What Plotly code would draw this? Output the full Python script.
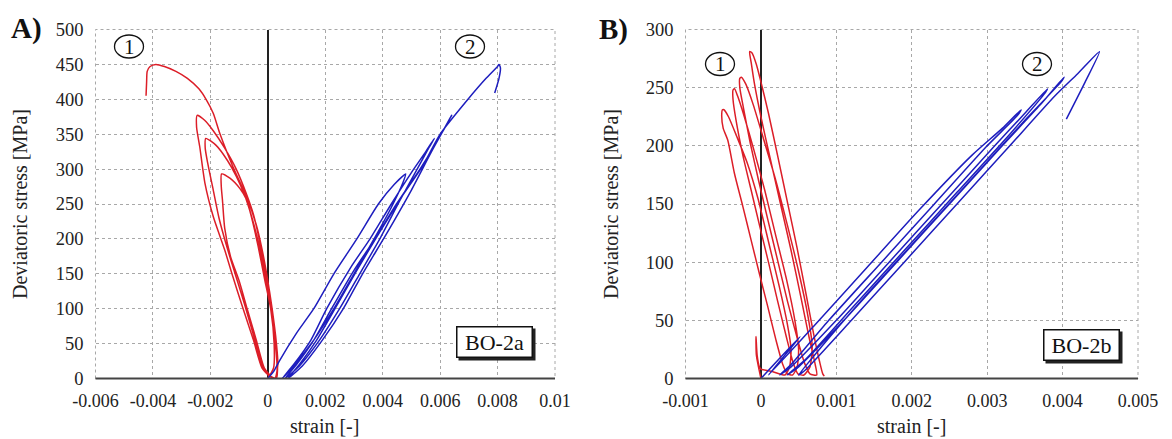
import plotly.graph_objects as go

# ---------------- data ----------------
# Panel A (BO-2a) - curve 1 (red, lateral strain)
a_red_strain = [0.0, 0.0002, 0.00022, 0.0001, -0.0001, -0.00034, -0.00055, -0.00074, -0.00097, -0.00132, -0.00161,
                -0.00162, -0.00158, -0.0015, -0.0013, -0.001, -0.00072, -0.0004, -0.00012, 0.00015, 0.0003,
                0.00032, 0.00026, 0.0001, -0.00008, -0.0003, -0.00055, -0.0008, -0.0011, -0.0014, -0.0018, -0.00216,
                -0.00218, -0.0021, -0.0019, -0.0017, -0.0014, -0.0011, -0.0008, -0.00045, -0.00015, 0.00015, 0.0003,
                0.00034, 0.00028, 0.00012, -0.00005, -0.00025, -0.0005, -0.00075, -0.0011, -0.0015, -0.0019, -0.0022, -0.00246,
                -0.00248, -0.00237, -0.00219, -0.0019, -0.0015, -0.00121, -0.0009, -0.0005, -0.0002, 0.0001, 0.00025,
                0.00035, 0.0003, 0.00015, -0.00002, -0.0002, -0.0004, -0.00074, -0.00121, -0.00167, -0.0019, -0.00215,
                -0.0024, -0.0028, -0.0032, -0.0036, -0.0039, -0.0041, -0.0042, -0.00422, -0.00424]
a_red_stress = [0, 15, 50, 100, 140, 190, 228, 256, 272, 287, 293,
                275, 256, 215, 175, 140, 100, 55, 15, 2, 0,
                20, 50, 100, 145, 190, 230, 262, 290, 312, 334, 344,
                330, 310, 270, 230, 185, 145, 105, 55, 15, 2, 0,
                20, 50, 100, 145, 190, 235, 265, 300, 330, 355, 370, 377,
                360, 332, 280, 232, 184, 145, 105, 55, 15, 2, 0,
                20, 50, 100, 145, 185, 220, 260, 303, 351, 380, 400,
                415, 430, 440, 447, 450, 447, 440, 425, 405]

# Panel A - curve 2 (blue, axial strain)
a_blue_strain = [0.0, 0.0002, 0.0004, 0.001, 0.0016, 0.0023, 0.0031, 0.00385, 0.0044, 0.0048,
                 0.0047, 0.0043, 0.0037, 0.003, 0.0023, 0.0016, 0.0009, 0.0005,
                 0.0009, 0.0015, 0.00205, 0.0029, 0.00356, 0.0043, 0.005, 0.0055, 0.0058,
                 0.0056, 0.0052, 0.0046, 0.0039, 0.0032, 0.0025, 0.0018, 0.0011, 0.0006,
                 0.001, 0.0016, 0.00222, 0.003, 0.00373, 0.00448, 0.0053, 0.0059, 0.0064,
                 0.0062, 0.0057, 0.005, 0.0041, 0.0033, 0.00263, 0.0019, 0.0012, 0.0007,
                 0.0011, 0.0017, 0.00234, 0.0031, 0.0039, 0.00466, 0.0054, 0.006, 0.00697, 0.0076, 0.008,
                 0.00805, 0.0081, 0.00805, 0.0079]
a_blue_stress = [0, 10, 25, 65, 100, 150, 200, 250, 278, 293,
                 280, 245, 200, 150, 100, 55, 18, 0,
                 20, 55, 100, 160, 200, 250, 295, 325, 344,
                 330, 300, 255, 200, 150, 100, 55, 18, 0,
                 20, 55, 100, 155, 200, 250, 300, 340, 377,
                 362, 325, 270, 205, 150, 100, 55, 18, 0,
                 20, 55, 100, 155, 210, 260, 305, 350, 400, 430, 447,
                 450, 445, 430, 409]

# Panel B (BO-2b) - curve 1 (red)
b_red_strain = [0.0, -0.00006, -0.000065, -0.00005, -0.00002, 0.0, 0.00015, 0.00032,
                0.00038, 0.0004, 0.00035, 0.00024, 0.00011, -0.00004, -0.00018, -0.00032, -0.00043, -0.00049, -0.00051,
                -0.00052, -0.0005, -0.00044, -0.00035, -0.00024, -0.00013, -0.00002, 0.00009, 0.0002, 0.00029, 0.00035, 0.00042,
                0.00048, 0.0005, 0.00045, 0.00034, 0.0002, 0.00005, -0.0001, -0.00022, -0.00031, -0.00035, -0.00037,
                -0.00037, -0.00033, -0.00024, -0.00013, -0.00002, 0.0001, 0.00022, 0.00034, 0.00043, 0.00049, 0.00057,
                0.00065, 0.00068, 0.00062, 0.0005, 0.00035, 0.00019, 0.00003, -0.0001, -0.0002, -0.00026, -0.00028,
                -0.00028, -0.00023, -0.00014, -0.00003, 0.00009, 0.00022, 0.00035, 0.00048, 0.00058, 0.00065, 0.00074,
                0.00072, 0.00064, 0.00053, 0.0004, 0.00026, 0.00012, 0.0, -0.00009, -0.00013, -0.00015,
                -0.00012, -0.00006, 0.0, 0.0001, 0.00022, 0.00035, 0.00048, 0.0006, 0.0007, 0.00078, 0.00082, 0.00084]
b_red_stress = [0, 20, 36, 20, 10, 8, 6, 3,
                10, 25, 47, 80, 115, 155, 185, 208, 225, 231, 231,
                226, 215, 205, 176, 148, 119, 90, 62, 33, 12, 4, 3,
                10, 25, 50, 85, 122, 162, 198, 225, 243, 249, 248,
                240, 222, 192, 162, 132, 100, 67, 35, 13, 4, 3,
                10, 28, 55, 92, 132, 172, 207, 235, 253, 259, 258,
                250, 232, 202, 170, 137, 102, 67, 35, 13, 4, 3,
                12, 35, 70, 110, 150, 190, 225, 255, 272, 281,
                280, 270, 255, 228, 192, 152, 112, 72, 38, 14, 4, 2]

# Panel B - curve 2 (blue)
b_blue_strain = [0.0, 0.00052, 0.0001,
                 0.0007, 0.0014, 0.0021, 0.0028, 0.0032, 0.00345,
                 0.0034, 0.003, 0.0023, 0.0016, 0.0009, 0.0004, 0.00025,
                 0.0004, 0.001, 0.0017, 0.0024, 0.0031, 0.0035, 0.0038,
                 0.00375, 0.0033, 0.0026, 0.0019, 0.0012, 0.0006, 0.00035,
                 0.0005, 0.0011, 0.0018, 0.0025, 0.0032, 0.0037, 0.00402,
                 0.00398, 0.0035, 0.0028, 0.0021, 0.0014, 0.0008, 0.0005,
                 0.0006, 0.0012, 0.0019, 0.0026, 0.0033, 0.0039, 0.0042, 0.00449, 0.0043, 0.00405]
b_blue_stress = [0, 36, 3,
                 45, 95, 145, 192, 215, 231,
                 226, 200, 150, 100, 50, 12, 3,
                 10, 50, 100, 150, 200, 228, 249,
                 244, 210, 160, 110, 60, 17, 3,
                 10, 50, 100, 150, 200, 235, 259,
                 255, 222, 172, 122, 72, 27, 3,
                 8, 50, 100, 150, 200, 243, 262, 281, 255, 223]

# tick values / labels
a_xticks = [-0.006, -0.004, -0.002, 0, 0.002, 0.004, 0.006, 0.008, 0.01]
a_xlabels = ["-0.006", "-0.004", "-0.002", "0", "0.002", "0.004", "0.006", "0.008", "0.01"]
a_yticks = [0, 50, 100, 150, 200, 250, 300, 350, 400, 450, 500]
b_xticks = [-0.001, 0, 0.001, 0.002, 0.003, 0.004, 0.005]
b_xlabels = ["-0.001", "0", "0.001", "0.002", "0.003", "0.004", "0.005"]
b_yticks = [0, 50, 100, 150, 200, 250, 300]

panel_labels = ["A)", "B)"]
box_labels = ["BO-2a", "BO-2b"]
curve_numbers = ["1", "2"]
x_title = "strain [-]"
y_title = "Deviatoric stress [MPa]"

# ---------------- figure ----------------
# the page body has an 8 px margin, so the figure is 8 px smaller and
# window pixel positions are converted with that offset
OFF = 8
W, H = 1172 - OFF, 439 - OFF
def fx(p):
    return (p - OFF) / W
def fy(p):
    return 1 - (p - OFF) / H

RED = "rgb(220,30,40)"
BLUE = "rgb(30,30,190)"
SERIF = "Liberation Serif"
LINE = dict(width=1.5, shape="spline", smoothing=0.6)

fig = go.Figure()
fig.add_trace(go.Scatter(x=a_red_strain, y=a_red_stress, mode="lines", line=dict(color=RED, **LINE),
                         xaxis="x", yaxis="y", showlegend=False))
fig.add_trace(go.Scatter(x=a_blue_strain, y=a_blue_stress, mode="lines", line=dict(color=BLUE, **LINE),
                         xaxis="x", yaxis="y", showlegend=False))
fig.add_trace(go.Scatter(x=b_red_strain, y=b_red_stress, mode="lines", line=dict(color=RED, **LINE),
                         xaxis="x2", yaxis="y2", showlegend=False))
fig.add_trace(go.Scatter(x=b_blue_strain, y=b_blue_stress, mode="lines", line=dict(color=BLUE, **LINE),
                         xaxis="x2", yaxis="y2", showlegend=False))

ydom = [fy(378.5), fy(29.5)]
common_x = dict(showgrid=True, gridcolor="#a8a8a8", griddash="dot", gridwidth=1,
                zeroline=True, zerolinecolor="#222222", zerolinewidth=1.5,
                showline=False, automargin=False,
                ticks="", tickfont=dict(family=SERIF, size=18, color="#222"),
                ticklabelstandoff=9, tickmode="array")
common_y = dict(showgrid=True, gridcolor="#a8a8a8", griddash="dot", gridwidth=1,
                zeroline=False, showline=False, domain=ydom, automargin=False,
                ticks="", tickfont=dict(family=SERIF, size=18.5, color="#222"),
                ticklabelstandoff=11, tickmode="array")

fig.update_layout(
    width=W, height=H, margin=dict(l=0, r=0, t=0, b=0, autoexpand=False),
    paper_bgcolor="white", plot_bgcolor="white",
    font=dict(family=SERIF),
    xaxis=dict(domain=[fx(95.5), fx(555)], range=[-0.006, 0.01], tickvals=a_xticks, ticktext=a_xlabels,
               anchor="y", **common_x),
    yaxis=dict(range=[0, 500], tickvals=a_yticks, anchor="x", **common_y),
    xaxis2=dict(domain=[fx(685.5), fx(1138)], range=[-0.001, 0.005], tickvals=b_xticks, ticktext=b_xlabels,
                anchor="y2", **common_x),
    yaxis2=dict(range=[0, 300], tickvals=b_yticks, anchor="x2", **common_y),
)

# dotted frame (left, top, right) and solid bottom axis line for both panels
for xr, yr in (("x", "y"), ("x2", "y2")):
    fig.add_shape(type="rect", xref=f"{xr} domain", yref=f"{yr} domain", x0=0, x1=1, y0=0, y1=1,
                  line=dict(color="#a8a8a8", width=1, dash="dot"), layer="below")
    fig.add_shape(type="line", xref=f"{xr} domain", yref=f"{yr} domain", x0=0, x1=1, y0=0, y1=0,
                  line=dict(color="#444444", width=2), layer="above")

# circled curve numbers
circles = [(129, 46.5, 0), (470, 46.5, 1), (720, 64, 0), (1037, 64, 1)]
for cx, cy, k in circles:
    fig.add_shape(type="circle", xref="paper", yref="paper",
                  x0=fx(cx - 14.5), x1=fx(cx + 14.5), y0=fy(cy + 11.5), y1=fy(cy - 11.5),
                  line=dict(color="#111", width=1.3))
    fig.add_annotation(x=fx(cx), y=fy(cy + 0.5), xref="paper", yref="paper", text=curve_numbers[k],
                       showarrow=False, xanchor="center", yanchor="middle",
                       font=dict(family=SERIF, size=21, color="#111"))

# boxed specimen labels (with a slight drop shadow like the reference)
for cx, cy, k in ((494.5, 342, 0), (1081.5, 345, 1)):
    fig.add_shape(type="rect", xref="paper", yref="paper",
                  x0=fx(cx - 36), x1=fx(cx + 41), y0=fy(cy + 18.5), y1=fy(cy - 13.5),
                  line=dict(width=0), fillcolor="#222", layer="above")
    fig.add_annotation(x=fx(cx), y=fy(cy), xref="paper", yref="paper", text=box_labels[k],
                       showarrow=False, xanchor="center", yanchor="middle", width=72, height=27,
                       font=dict(family=SERIF, size=22, color="#111"),
                       bordercolor="#111", borderwidth=1.5, borderpad=1, bgcolor="white")

# panel letters
for cx, cy, k in ((26, 28, 0), (613, 29, 1)):
    fig.add_annotation(x=fx(cx), y=fy(cy), xref="paper", yref="paper", text=f"<b>{panel_labels[k]}</b>",
                       showarrow=False, xanchor="center", yanchor="middle",
                       font=dict(family=SERIF, size=29, color="#111"))

# axis titles
for cx in (20, 611):
    fig.add_annotation(x=fx(cx), y=fy(204), xref="paper", yref="paper", text=y_title, textangle=-90,
                       showarrow=False, xanchor="center", yanchor="middle",
                       font=dict(family=SERIF, size=20, color="#222"))
for cx in (324, 911):
    fig.add_annotation(x=fx(cx), y=0, xref="paper", yref="paper", text=x_title,
                       showarrow=False, xanchor="center", yanchor="bottom",
                       font=dict(family=SERIF, size=20, color="#222"))

fig.write_html("out.html")
